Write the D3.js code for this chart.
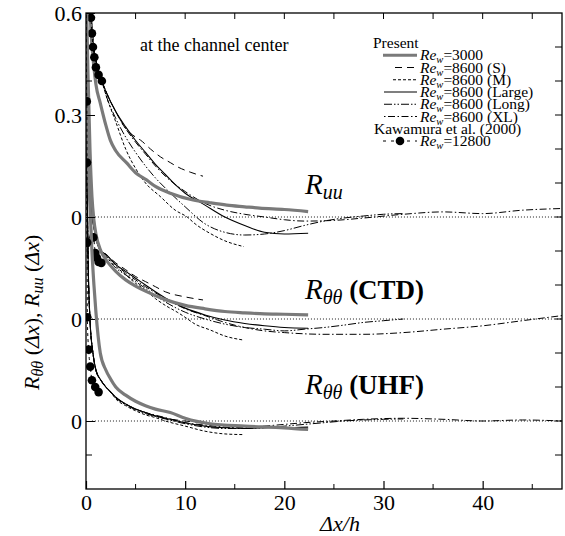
<!DOCTYPE html>
<html><head><meta charset="utf-8">
<script src="https://cdn.jsdelivr.net/npm/d3@7"></script>
<style>body{margin:0;background:#fff}</style>
</head><body><svg id="c" width="565" height="536" font-family="Liberation Serif"></svg>
<script>
// ---------- data ----------
const xTickValues = [0, 10, 20, 30, 40];
const xTickLabels = ["0", "10", "20", "30", "40"];
const yTickValues = [0.6, 0.3, 0, -0.3, -0.6];
const yTickLabels = ["0.6", "0.3", "0", "0", "0"];
const groupOffsets = [0, -0.3, -0.6]; // Ruu, Rθθ(CTD), Rθθ(UHF)

// R_uu
const ruu3000X = [0,0.1,0.2,0.3,0.5,0.8,1.0,1.44,2,2.45,3,4.1,5,6.1,7,8.5,10.8,12.5,14.2,16,17.5,20,22.4];
const ruu3000V = [1,0.93,0.82,0.7,0.55,0.44,0.39,0.335,0.27,0.226,0.195,0.159,0.13,0.109,0.09,0.07,0.05,0.042,0.035,0.03,0.026,0.022,0.016];
const ruuSX = [0,0.2,0.4,0.7,1.0,1.6,2,3,3.8,5,5.5,6.5,7.5,8.5,9.2,10.5,11.8];
const ruuSV = [1,0.82,0.66,0.52,0.46,0.40,0.37,0.31,0.268,0.235,0.226,0.2,0.177,0.16,0.148,0.132,0.12];
const ruuMX = [0,0.2,0.4,0.7,1.0,1.6,2,3,4,5.1,6,7.5,9,10.2,11,12.5,14,15.9];
const ruuMV = [1,0.82,0.66,0.52,0.46,0.40,0.36,0.28,0.2,0.138,0.1,0.06,0.02,0.0,-0.02,-0.048,-0.07,-0.087];
const ruuLargeX = [0,0.2,0.4,0.7,1.0,1.6,2,3,4,5,6,7,8,9,10,12,14,16,18,20,22.4];
const ruuLargeV = [1,0.82,0.66,0.52,0.46,0.40,0.37,0.31,0.265,0.225,0.19,0.155,0.125,0.095,0.07,0.035,0.0,-0.025,-0.045,-0.05,-0.048];
const ruuLongX = [0,0.2,0.4,0.7,1.0,1.6,2,3,4,5,6,7,8,10,12,14,16,18,20,22,24,26,28,30,32];
const ruuLongV = [1,0.82,0.66,0.52,0.46,0.40,0.36,0.29,0.235,0.19,0.15,0.115,0.085,0.03,-0.02,-0.045,-0.053,-0.05,-0.04,-0.025,-0.012,-0.003,0.003,0.008,0.01];
const ruuXLX = [0,0.2,0.4,0.7,1.0,1.6,2,3,4,5,6,7,8,10,12,14,16,18,20,22,25,28,32,36,40,44,48];
const ruuXLV = [1,0.82,0.66,0.52,0.46,0.40,0.37,0.31,0.26,0.22,0.185,0.15,0.12,0.075,0.04,0.02,0.008,0.0,-0.008,-0.012,-0.01,-0.003,0.008,0.015,0.01,0.02,0.025];
const ruuKawX = [0,0.5,0.6,0.7,0.84,1.0,1.27,1.6];
const ruuKawV = [1,0.586,0.54,0.50,0.47,0.44,0.418,0.40];

// R_θθ (CTD)
const ctd3000X = [0,0.2,0.4,0.6,0.8,1.0,1.5,2,3,4,5,6,8,10,12,14,16,18,20,22.4];
const ctd3000V = [1,0.72,0.5,0.36,0.29,0.25,0.2,0.175,0.14,0.115,0.097,0.082,0.057,0.04,0.03,0.022,0.018,0.015,0.014,0.012];
const ctdSX = [0,0.2,0.5,1.0,1.5,2,3,4,5,6,7,8,10,11.8];
const ctdSV = [1,0.6,0.35,0.24,0.2,0.19,0.165,0.145,0.125,0.11,0.095,0.08,0.065,0.056];
const ctdMX = [0,0.2,0.5,1.0,1.5,2,3,4,5,6,7,8,9.2,10,11,12.5,14,15.9];
const ctdMV = [1,0.6,0.35,0.24,0.2,0.185,0.155,0.13,0.105,0.085,0.06,0.04,0.02,0.005,-0.015,-0.032,-0.05,-0.062];
const ctdLargeX = [0,0.2,0.5,1.0,1.5,2,3,4,5,6,7,8,10,12,14,16,18,20,22.4];
const ctdLargeV = [1,0.6,0.35,0.24,0.2,0.19,0.16,0.14,0.12,0.1,0.08,0.062,0.032,0.012,-0.003,-0.013,-0.02,-0.025,-0.027];
const ctdLongX = [0,0.2,0.5,1.0,1.5,2,3,4,5,6,8,10,12,14,16,18,20,22,24,26,28,30,32];
const ctdLongV = [1,0.6,0.35,0.24,0.2,0.185,0.15,0.13,0.11,0.09,0.05,0.02,0.0,-0.015,-0.025,-0.03,-0.035,-0.03,-0.025,-0.018,-0.01,-0.005,0.0];
const ctdXLX = [0,0.2,0.5,1.0,1.5,2,3,4,5,6,8,10,12,14,16,18,20,24,28,32,36,40,44,48];
const ctdXLV = [1,0.6,0.35,0.24,0.2,0.19,0.16,0.135,0.115,0.095,0.06,0.03,0.01,-0.01,-0.025,-0.035,-0.04,-0.045,-0.045,-0.04,-0.03,-0.02,-0.005,0.01];
const ctdKawX = [0,0.13,0.74,0.94,1.1,1.27,1.55];
const ctdKawV = [1,0.224,0.24,0.194,0.18,0.168,0.165];

// R_θθ (UHF)
const uhf3000X = [0,0.1,0.2,0.3,0.45,0.6,0.8,1.0,1.44,2,2.45,3,4,5,6,7,8.5,10,12.5,16,20,22.4];
const uhf3000V = [1,0.92,0.8,0.7,0.6,0.5,0.4,0.32,0.2,0.15,0.125,0.1,0.076,0.058,0.045,0.035,0.025,0.008,-0.008,-0.015,-0.02,-0.025];
const uhfSX = [0,0.1,0.2,0.4,0.7,1.0,1.5,2,2.5,3,4,5,6,7,8,10,11.8];
const uhfSV = [1,0.75,0.5,0.3,0.2,0.15,0.12,0.1,0.085,0.07,0.05,0.035,0.025,0.015,0.008,0.0,-0.005];
const uhfMX = [0,0.1,0.2,0.4,0.7,1.0,1.5,2,2.5,3,4,5,6,7,8,10,12,14,15.9];
const uhfMV = [1,0.75,0.5,0.3,0.2,0.15,0.12,0.1,0.085,0.065,0.045,0.03,0.018,0.01,0.0,-0.015,-0.03,-0.038,-0.04];
const uhfLargeX = [0,0.1,0.2,0.4,0.7,1.0,1.5,2,2.5,3,4,5,6,7,8,10,12,14,16,18,20,22.4];
const uhfLargeV = [1,0.75,0.5,0.3,0.2,0.15,0.12,0.1,0.085,0.07,0.05,0.035,0.025,0.015,0.008,-0.005,-0.015,-0.02,-0.022,-0.02,-0.02,-0.018];
const uhfLongX = [0,0.1,0.2,0.4,0.7,1.0,1.5,2,2.5,3,4,5,6,8,10,12,14,16,18,20,22,24,26,28,30,32];
const uhfLongV = [1,0.75,0.5,0.3,0.2,0.15,0.12,0.1,0.085,0.068,0.048,0.033,0.022,0.006,-0.008,-0.018,-0.022,-0.022,-0.02,-0.015,-0.01,-0.005,0.0,0.003,0.005,0.006];
const uhfXLX = [0,0.1,0.2,0.4,0.7,1.0,1.5,2,2.5,3,4,5,6,8,10,12,14,16,18,20,22,25,28,32,36,40,44,48];
const uhfXLV = [1,0.75,0.5,0.3,0.2,0.15,0.12,0.1,0.085,0.07,0.05,0.035,0.025,0.01,-0.005,-0.012,-0.018,-0.02,-0.015,-0.01,-0.005,0.0,0.005,0.008,0.005,0.0,0.003,0.0];
const uhfKawX = [0,0.08,0.1,0.12,0.13,0.26,0.43,0.6,0.93,1.27];
const uhfKawV = [1,0.94,0.76,0.525,0.305,0.21,0.16,0.12,0.10,0.085];

// legend entries
const legendKeys = ["3000", "S", "M", "Large", "Long", "XL"];
const legendTexts = ["=3000", "=8600 (S)", "=8600 (M)", "=8600 (Large)", "=8600 (Long)", "=8600 (XL)"];

// ---------- chart ----------
const FONT = "Liberation Serif";
const svg = d3.select("#c");
const x = d3.scaleLinear().domain([0, 48]).range([86, 562]);
const y = d3.scaleLinear().domain([-0.8, 0.6]).range([489, 13]);

const styles = {
  "3000": {stroke: "#7a7a7a", width: 3.2, dash: null, x1: 383},
  "S": {stroke: "#000", width: 1, dash: "7,5", x1: 395},
  "M": {stroke: "#000", width: 1, dash: "3,2", x1: 393},
  "Large": {stroke: "#000", width: 1.1, dash: null, x1: 384},
  "Long": {stroke: "#000", width: 1, dash: "8,2,1.5,2,1.5,2", x1: 384},
  "XL": {stroke: "#000", width: 1, dash: "1.5,2.5,7,2.5", x1: 384},
  "Kaw": {stroke: "#000", width: 1, dash: "3,3"}
};

const groups = [
  {off: groupOffsets[0], series: [
    ["XL", ruuXLX, ruuXLV], ["Long", ruuLongX, ruuLongV], ["Large", ruuLargeX, ruuLargeV],
    ["M", ruuMX, ruuMV], ["S", ruuSX, ruuSV], ["3000", ruu3000X, ruu3000V], ["Kaw", ruuKawX, ruuKawV]]},
  {off: groupOffsets[1], series: [
    ["XL", ctdXLX, ctdXLV], ["Long", ctdLongX, ctdLongV], ["Large", ctdLargeX, ctdLargeV],
    ["M", ctdMX, ctdMV], ["S", ctdSX, ctdSV], ["3000", ctd3000X, ctd3000V], ["Kaw", ctdKawX, ctdKawV]]},
  {off: groupOffsets[2], series: [
    ["XL", uhfXLX, uhfXLV], ["Long", uhfLongX, uhfLongV], ["Large", uhfLargeX, uhfLargeV],
    ["M", uhfMX, uhfMV], ["S", uhfSX, uhfSV], ["3000", uhf3000X, uhf3000V], ["Kaw", uhfKawX, uhfKawV]]}
];

svg.append("clipPath").attr("id", "clip").append("rect")
  .attr("x", x(0)).attr("y", y(0.6)).attr("width", x(48) - x(0)).attr("height", y(-0.8) - y(0.6));
const plot = svg.append("g").attr("clip-path", "url(#clip)");

groupOffsets.forEach(o => {
  plot.append("line").attr("x1", x(0.6)).attr("x2", x(48)).attr("y1", y(o)).attr("y2", y(o))
    .attr("stroke", "#000").attr("stroke-width", 0.9).attr("stroke-dasharray", "1,2");
});

const line = d3.line().x(d => x(d[0])).y(d => y(d[1])).curve(d3.curveMonotoneX);
groups.forEach(g => {
  g.series.forEach(([key, xs, vs]) => {
    const st = styles[key];
    const pts = xs.map((xv, i) => [xv, vs[i] + g.off]);
    plot.append("path").datum(pts).attr("d", line).attr("fill", "none")
      .attr("stroke", st.stroke).attr("stroke-width", st.width)
      .attr("stroke-dasharray", st.dash).attr("stroke-linejoin", "round");
    if (key === "Kaw") {
      plot.selectAll(null).data(pts.slice(1)).enter().append("circle")
        .attr("cx", d => x(d[0])).attr("cy", d => y(d[1])).attr("r", 4.3).attr("fill", "#000");
    }
  });
});

svg.append("rect").attr("x", x(0)).attr("y", y(0.6)).attr("width", x(48) - x(0)).attr("height", y(-0.8) - y(0.6))
  .attr("fill", "none").attr("stroke", "#000").attr("stroke-width", 1.3);

// x axis
const xAxis = d3.axisBottom(x).tickValues(xTickValues).tickFormat((d, i) => xTickLabels[i]).tickSize(-8).tickPadding(5);
const gx = svg.append("g").attr("transform", `translate(0,${y(-0.8)})`).call(xAxis);
gx.attr("font-family", FONT).attr("font-size", 22);
gx.select(".domain").remove();
gx.selectAll("text").attr("fill", "#000");
gx.selectAll("line").attr("stroke-width", 1.2);
svg.append("g").selectAll("line").data(d3.range(5, 48, 10)).enter().append("line")
  .attr("x1", d => x(d)).attr("x2", d => x(d)).attr("y1", y(-0.8)).attr("y2", y(-0.8) - 5).attr("stroke", "#000");
svg.append("g").selectAll("line").data(d3.range(5, 48, 5)).enter().append("line")
  .attr("x1", d => x(d)).attr("x2", d => x(d)).attr("y1", y(0.6)).attr("y2", y(0.6) + 6).attr("stroke", "#000");

// y axis
const yAxis = d3.axisLeft(y).tickValues(yTickValues).tickFormat((d, i) => yTickLabels[i]).tickSize(-9).tickPadding(4);
const gy = svg.append("g").attr("transform", `translate(${x(0)},0)`).call(yAxis);
gy.attr("font-family", FONT).attr("font-size", 22);
gy.select(".domain").remove();
gy.selectAll("text").attr("fill", "#000");
svg.append("g").selectAll("line").data([0.4, -0.7]).enter().append("line")
  .attr("x1", x(0)).attr("x2", x(0) + 6).attr("y1", d => y(d)).attr("y2", d => y(d)).attr("stroke", "#000");
svg.append("g").selectAll("line").data(d3.range(-7, 6).map(k => k / 10)).enter().append("line")
  .attr("x1", x(48)).attr("x2", x(48) - 7).attr("y1", d => y(d)).attr("y2", d => y(d)).attr("stroke", "#000");

function T(sel) { return sel.append("text").attr("font-family", FONT).attr("fill", "#000"); }

T(svg).attr("x", 340).attr("y", 531).attr("text-anchor", "middle").attr("font-size", 22)
  .attr("font-style", "italic").text("Δx/h");

const yl = T(svg).attr("transform", "translate(39,390) rotate(-90)").attr("font-size", 22);
yl.append("tspan").attr("font-style", "italic").text("R");
yl.append("tspan").attr("font-style", "italic").attr("font-size", 16).attr("dy", 4).text("θθ");
yl.append("tspan").attr("dy", -4).text(" (");
yl.append("tspan").attr("font-style", "italic").text("Δx");
yl.append("tspan").text("), ");
yl.append("tspan").attr("font-style", "italic").text("R");
yl.append("tspan").attr("font-style", "italic").attr("font-size", 16).attr("dy", 4).text("uu");
yl.append("tspan").attr("dy", -4).text(" (");
yl.append("tspan").attr("font-style", "italic").text("Δx");
yl.append("tspan").text(")");

T(svg).attr("x", 140).attr("y", 51).attr("font-size", 18).text("at the channel center");

function label(yb, extra) {
  const t = T(svg).attr("x", 305).attr("y", yb).attr("font-size", 29);
  t.append("tspan").attr("font-style", "italic").text("R");
  t.append("tspan").attr("font-style", "italic").attr("font-size", 20).attr("dy", 5).text(extra ? "θθ" : "uu");
  if (extra) t.append("tspan").attr("dy", -5).attr("font-weight", "bold").attr("font-size", 27).text(" (" + extra + ")");
}
label(194, null);
label(299, "CTD");
label(394, "UHF");

// legend
const lg = svg.append("g");
const rowH = 12.25, row0 = 43;
T(lg).attr("x", 373).attr("y", row0 + 5).attr("font-size", 15.5).text("Present");
function reText(yp, rest) {
  const t = T(lg).attr("x", 420).attr("y", yp).attr("font-size", 15.5);
  t.append("tspan").attr("font-style", "italic").text("Re");
  t.append("tspan").attr("font-style", "italic").attr("font-size", 10.5).attr("dy", 3).text("w");
  t.append("tspan").attr("dy", -3).text(rest);
}
legendKeys.forEach((k, i) => {
  const yy = row0 + rowH * (i + 1);
  const st = styles[k];
  lg.append("line").attr("x1", st.x1).attr("x2", 417).attr("y1", yy).attr("y2", yy)
    .attr("stroke", st.stroke).attr("stroke-width", st.width).attr("stroke-dasharray", st.dash);
  reText(yy + 5, legendTexts[i]);
});
T(lg).attr("x", 374).attr("y", row0 + rowH * 7 + 5).attr("font-size", 15.5).text("Kawamura et al. (2000)");
const ky = row0 + rowH * 8;
lg.append("line").attr("x1", 383).attr("x2", 417).attr("y1", ky).attr("y2", ky)
  .attr("stroke", "#000").attr("stroke-dasharray", "3,5");
lg.append("circle").attr("cx", 400).attr("cy", ky).attr("r", 4.3).attr("fill", "#000");
reText(ky + 5, "=12800");
</script></body></html>
